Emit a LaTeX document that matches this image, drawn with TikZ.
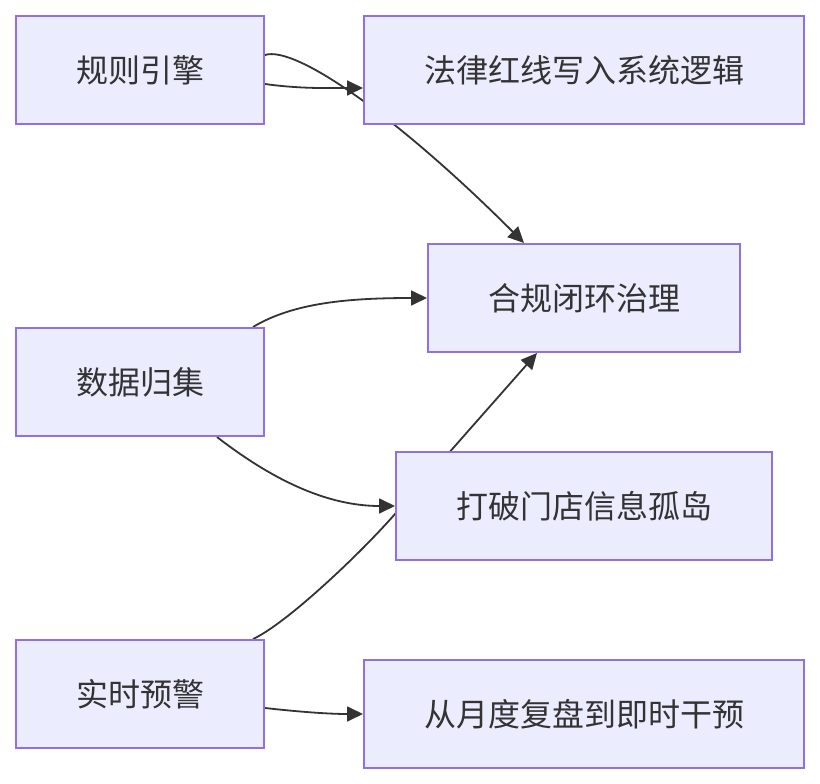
\documentclass[tikz,border=0pt]{standalone}
\usepackage{fontspec}
\newfontfamily\cjk{Noto Sans CJK SC}
\usetikzlibrary{arrows.meta,backgrounds}
\definecolor{nodefill}{HTML}{ECECFF}
\definecolor{nodeline}{HTML}{9370DB}
\definecolor{edgecol}{HTML}{333333}
\tikzset{
  box/.style={draw=nodeline, fill=nodefill, line width=2pt, inner sep=0pt,
    minimum height=108pt, text=edgecol, font=\cjk\fontsize{32}{38}\selectfont},
  edge/.style={draw=edgecol, line width=1.8pt, -{Triangle[length=16pt,width=15pt]}},
  plainedge/.style={draw=edgecol, line width=1.8pt}
}
\begin{document}
\begin{tikzpicture}[x=1pt,y=-1pt]
\useasboundingbox (0,0) rectangle (820,784);
\node[box, minimum width=248pt] (A) at (140,70) {规则引擎};
\node[box, minimum width=440pt] (B) at (584,70) {法律红线写入系统逻辑};
\node[box, minimum width=312pt] (C) at (584,298) {合规闭环治理};
\node[box, minimum width=248pt] (D) at (140,382) {数据归集};
\node[box, minimum width=376pt] (E) at (584,506) {打破门店信息孤岛};
\node[box, minimum width=248pt] (F) at (140,694) {实时预警};
\node[box, minimum width=440pt] (G) at (584,714) {从月度复盘到即时干预};
\begin{scope}[on background layer]
\draw[edge] ([yshift=-14pt]A.east) .. controls +(36,5) and +(-34,0) .. ([yshift=-18pt]B.west);
\draw[edge] ([yshift=15pt]A.east) .. controls +(31,-10) and +(-124,-124) .. ([xshift=-60pt]C.north);
\draw[edge] ([xshift=-12pt]D.north east) .. controls +(40,-24) and +(-80,0) .. (C.west);
\draw[edge] ([xshift=-48pt]D.south east) .. controls +(44,34) and +(-76,0) .. (E.west);
\draw[edge] ([xshift=-12pt]F.north east) .. controls +(33,-15) and +(-35,40) .. ([yshift=-8pt]E.west) -- ([xshift=-47pt]C.south);
\draw[edge] ([yshift=-14pt]F.east) .. controls +(36,4) and +(-34,0) .. (G.west);
\end{scope}
\end{tikzpicture}
\end{document}
